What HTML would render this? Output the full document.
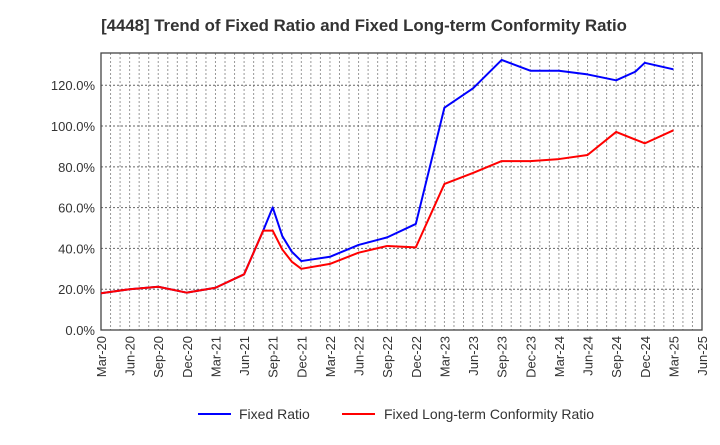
<!DOCTYPE html>
<html><head><meta charset="utf-8"><style>
body{margin:0;background:#fff;font-family:"Liberation Sans",sans-serif}
</style></head><body>
<svg id="c" width="720" height="440" xmlns="http://www.w3.org/2000/svg">
<text x="364" y="31" text-anchor="middle" font-size="16.8" font-weight="bold" fill="#333">[4448]  Trend of Fixed Ratio and Fixed Long-term Conformity Ratio</text>
<g id="grid"></g><g id="axes"></g><g id="series"></g>
<g>
<line x1="198" y1="414" x2="231" y2="414" stroke="#0000ff" stroke-width="2"/>
<text x="239" y="419" font-size="14" fill="#333">Fixed Ratio</text>
<line x1="342" y1="414" x2="375" y2="414" stroke="#ff0000" stroke-width="2"/>
<text x="384" y="419" font-size="14" fill="#333">Fixed Long-term Conformity Ratio</text>
</g>
</svg>
<script>
const xTickLabels=["Mar-20","Jun-20","Sep-20","Dec-20","Mar-21","Jun-21","Sep-21","Dec-21","Mar-22","Jun-22","Sep-22","Dec-22","Mar-23","Jun-23","Sep-23","Dec-23","Mar-24","Jun-24","Sep-24","Dec-24","Mar-25","Jun-25"];
const yTicks=[0,20,40,60,80,100,120];
const fixedMonths=[0,3,6,9,12,15,17,18,19,20,21,24,27,30,33,36,39,42,45,48,51,54,56,57,60];
const fixedValues=[18.0,20.0,21.2,18.3,20.7,27.3,48.7,60.1,46.1,38.4,33.8,35.9,41.7,45.4,52.0,109.0,118.5,132.4,127.1,127.1,125.3,122.4,126.6,131.0,127.8];
const confMonths=[0,3,6,9,12,15,17,18,19,20,21,24,27,30,33,36,39,42,45,48,51,54,57,60];
const confValues=[18.0,20.0,21.2,18.3,20.7,27.3,48.7,48.7,39.5,33.5,30.0,32.4,37.9,41.2,40.5,71.6,77.0,82.8,82.8,83.8,85.8,97.1,91.5,97.9];
const L=101,R=702,T=53,B=330,YMAX=135.8;
const xs=m=>L+(R-L)*m/63, ys=v=>B-(B-T)*v/YMAX;
const NS="http://www.w3.org/2000/svg";
function mk(p,t,a){const e=document.createElementNS(NS,t);for(const k in a)e.setAttribute(k,a[k]);p.appendChild(e);return e;}
const g=document.getElementById('grid'),ax=document.getElementById('axes'),s=document.getElementById('series');
for(let m=1;m<63;m++){const l=mk(g,'line',{x1:xs(m),x2:xs(m),y1:T,y2:B,stroke:'#999','stroke-dasharray':'2,2','stroke-width':1});

}
for(let v=20;v<=140;v+=20){if(ys(v)<T)continue;const l=mk(g,'line',{x1:L,x2:R,y1:ys(v),y2:ys(v),stroke:'#666','stroke-dasharray':'2,2','stroke-width':1});

}
const fr=mk(ax,'rect',{x:L,y:T,width:R-L,height:B-T,fill:'none',stroke:'#444','stroke-width':1.3});


yTicks.forEach(v=>{const t=mk(ax,'text',{x:L-6,y:ys(v)+5,'text-anchor':'end','font-size':13,fill:'#333'});t.textContent=v.toFixed(1)+'%';

});
xTickLabels.forEach((lb,i)=>{const x=xs(i*3);const t=mk(ax,'text',{x:0,y:0,'text-anchor':'end','font-size':13,fill:'#333',transform:`translate(${x+5},${B+6}) rotate(-90)`});t.textContent=lb;

});
function line(ms,vs,c,n){const p=mk(s,'polyline',{points:ms.map((m,i)=>xs(m)+','+ys(vs[i])).join(' '),fill:'none',stroke:c,'stroke-width':2,'stroke-linejoin':'round'});

}
line(fixedMonths,fixedValues,'#0000ff','fixed-ratio-line');
line(confMonths,confValues,'#ff0000','conformity-ratio-line');
</script>
</body></html>
